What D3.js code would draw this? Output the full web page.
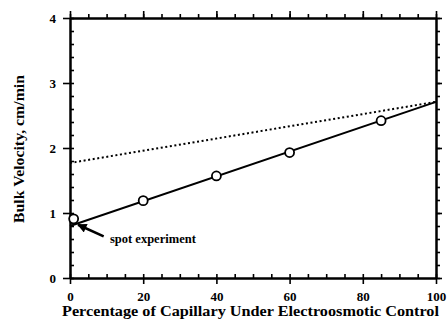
<!DOCTYPE html>
<html>
<head>
<meta charset="utf-8">
<script src="https://cdn.jsdelivr.net/npm/d3@7"></script>
<style>
  body { margin: 0; background: #fff; }
  text { font-family: "Liberation Serif", "DejaVu Serif", serif; font-weight: bold; fill: #000; }
</style>
</head>
<body>
<div id="chart"></div>
<script>
// values
const majorX = [0, 20, 40, 60, 80, 100];
const minorX = d3.range(0, 101, 5);
const majorY = [0, 1, 2, 3, 4];
const minorY = d3.range(0, 4.01, 0.2);

const pctMeasured = [1, 20, 40, 60, 85];
const velMeasured = [0.91, 1.19, 1.57, 1.93, 2.42];

const pctFit = [0, 100];
const velFit = [0.80, 2.71];

const pctTheory = [0, 100];
const velTheory = [1.77, 2.71];

// spot experiment arrow: tail -> head, label anchor
const spotArrow = [[9.2, 0.64], [2.2, 0.82]];
const spotLabel = { pct: 10.9, vel: 0.54, text: "spot experiment" };

const W = 448, H = 326;
const margin = {top: 18, right: 12, bottom: 48, left: 70};
const width = W - margin.left - margin.right,
      height = H - margin.top - margin.bottom;

const svg = d3.select("#chart").append("svg")
  .attr("width", W).attr("height", H);

const g = svg.append("g")
  .attr("transform", `translate(${margin.left},${margin.top})`);

const x = d3.scaleLinear().domain([0, 100]).range([0, width]);
const y = d3.scaleLinear().domain([0, 4]).range([height, 0]);

function styleAxis(sel) {
  sel.select(".domain").attr("stroke-width", 2);
  sel.selectAll(".tick line").attr("stroke", "#000").attr("stroke-width", 1.6);
}

// minor ticks
g.append("g").attr("transform", `translate(0,${height})`)
  .call(d3.axisBottom(x).tickValues(minorX).tickSize(-4).tickSizeOuter(0).tickFormat(""))
  .call(styleAxis);
g.append("g")
  .call(d3.axisTop(x).tickValues(minorX).tickSize(4).tickSizeOuter(0).tickFormat(""))
  .call(styleAxis);
g.append("g")
  .call(d3.axisLeft(y).tickValues(minorY).tickSize(-4).tickSizeOuter(0).tickFormat(""))
  .call(styleAxis);
g.append("g").attr("transform", `translate(${width},0)`)
  .call(d3.axisRight(y).tickValues(minorY).tickSize(4).tickSizeOuter(0).tickFormat(""))
  .call(styleAxis);

// major ticks + labels
g.append("g").attr("transform", `translate(0,${height})`)
  .call(d3.axisBottom(x).tickValues(majorX).tickSize(6).tickSizeOuter(0).tickPadding(8)
    .tickFormat(d3.format("d")))
  .call(styleAxis)
  .call(a => a.selectAll("text").style("font-size", "13px"));
g.append("g")
  .call(d3.axisTop(x).tickValues(majorX).tickSize(7).tickSizeOuter(0).tickFormat(""))
  .call(styleAxis);
g.append("g")
  .call(d3.axisLeft(y).tickValues(majorY).tickSize(7).tickSizeOuter(0).tickPadding(7)
    .tickFormat(d3.format("d")))
  .call(styleAxis)
  .call(a => a.selectAll("text").style("font-size", "13px"));
g.append("g").attr("transform", `translate(${width},0)`)
  .call(d3.axisRight(y).tickValues(majorY).tickSize(6).tickSizeOuter(0).tickFormat(""))
  .call(styleAxis);

g.selectAll(".tick text").attr("fill", "#000");

// theory (dotted) line
const line = d3.line().x(d => x(d[0])).y(d => y(d[1]));
g.append("path")
  .datum(d3.zip(pctTheory, velTheory))
  .attr("d", line)
  .attr("fill", "none").attr("stroke", "#000")
  .attr("stroke-width", 2).attr("stroke-dasharray", "2,2.6");

// fit (solid) line
g.append("path")
  .datum(d3.zip(pctFit, velFit))
  .attr("d", line)
  .attr("fill", "none").attr("stroke", "#000")
  .attr("stroke-width", 2);

// measured points
g.selectAll("circle.pt")
  .data(d3.zip(pctMeasured, velMeasured))
  .join("circle")
  .attr("class", "pt")
  .attr("cx", d => x(d[0])).attr("cy", d => y(d[1]))
  .attr("r", 4.5)
  .attr("fill", "#fff").attr("stroke", "#000").attr("stroke-width", 1.8);

// arrow
svg.append("defs").append("marker")
  .attr("id", "ah").attr("viewBox", "0 0 10 10")
  .attr("refX", 9).attr("refY", 5)
  .attr("markerWidth", 4).attr("markerHeight", 3.6)
  .attr("markerUnits", "strokeWidth")
  .attr("orient", "auto")
  .append("path").attr("d", "M0,0L10,5L0,10z").attr("fill", "#000");

g.append("path")
  .datum(spotArrow)
  .attr("d", line)
  .attr("stroke", "#000").attr("stroke-width", 2.6)
  .attr("marker-end", "url(#ah)");

g.append("text")
  .attr("x", x(spotLabel.pct)).attr("y", y(spotLabel.vel))
  .style("font-size", "12px")
  .attr("textLength", 86).attr("lengthAdjust", "spacingAndGlyphs")
  .text(spotLabel.text);

// axis titles
svg.append("text")
  .attr("x", 62).attr("y", 316)
  .style("font-size", "15px")
  .attr("textLength", 377).attr("lengthAdjust", "spacingAndGlyphs")
  .text("Percentage of Capillary Under Electroosmotic Control");

svg.append("text")
  .attr("transform", `translate(24,223) rotate(-90)`)
  .style("font-size", "14.5px")
  .attr("textLength", 148).attr("lengthAdjust", "spacingAndGlyphs")
  .text("Bulk Velocity, cm/min");
</script>
</body>
</html>
